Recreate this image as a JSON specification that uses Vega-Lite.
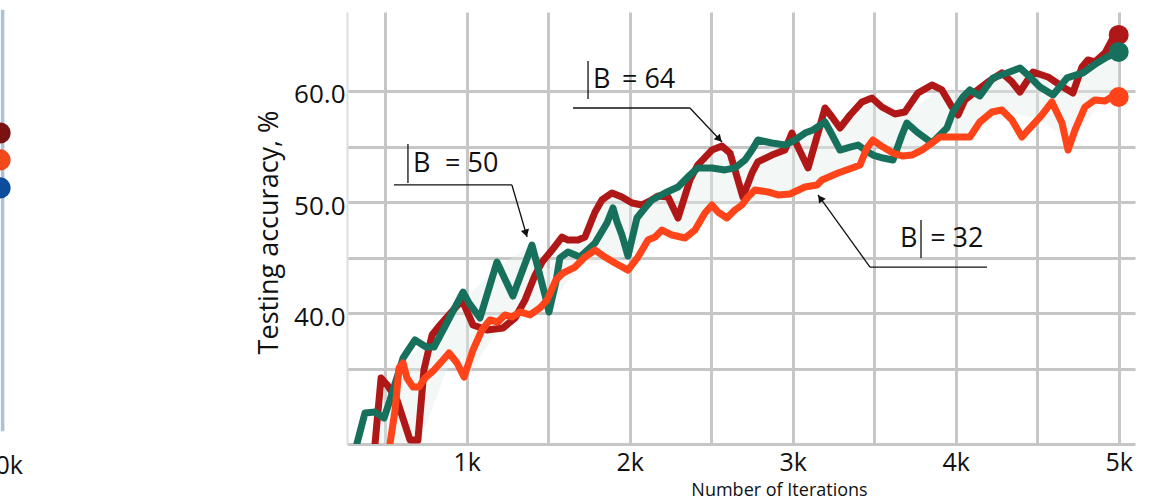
{
  "$schema": "https://vega.github.io/schema/vega-lite/v6.json",
  "width": 788,
  "height": 432,
  "autosize": {"type": "none"},
  "padding": {"left": 347, "top": 12, "right": 27, "bottom": 57},
  "background": "white",
  "config": {"view": {"stroke": null}, "font": "Open Sans"},
  "datasets": {
    "series": [
      {"s": "B = 64", "x": 437, "y": 28.3}, {"s": "B = 64", "x": 474, "y": 34.19}, {"s": "B = 64", "x": 517, "y": 33.47}, {"s": "B = 64", "x": 572, "y": 32.21},
      {"s": "B = 64", "x": 652, "y": 28.61}, {"s": "B = 64", "x": 700, "y": 28.61}, {"s": "B = 64", "x": 737, "y": 34.91}, {"s": "B = 64", "x": 787, "y": 38.06},
      {"s": "B = 64", "x": 836, "y": 38.96}, {"s": "B = 64", "x": 971, "y": 41.2}, {"s": "B = 64", "x": 1038, "y": 38.96}, {"s": "B = 64", "x": 1124, "y": 38.51},
      {"s": "B = 64", "x": 1222, "y": 38.69}, {"s": "B = 64", "x": 1296, "y": 39.59}, {"s": "B = 64", "x": 1357, "y": 41.2}, {"s": "B = 64", "x": 1419, "y": 43.45},
      {"s": "B = 64", "x": 1462, "y": 44.62}, {"s": "B = 64", "x": 1523, "y": 45.7}, {"s": "B = 64", "x": 1584, "y": 46.87}, {"s": "B = 64", "x": 1621, "y": 46.6},
      {"s": "B = 64", "x": 1682, "y": 46.6}, {"s": "B = 64", "x": 1725, "y": 46.87}, {"s": "B = 64", "x": 1787, "y": 49.12}, {"s": "B = 64", "x": 1829, "y": 50.2},
      {"s": "B = 64", "x": 1891, "y": 50.83}, {"s": "B = 64", "x": 1952, "y": 50.47}, {"s": "B = 64", "x": 2014, "y": 49.93}, {"s": "B = 64", "x": 2075, "y": 49.75},
      {"s": "B = 64", "x": 2124, "y": 50.11}, {"s": "B = 64", "x": 2173, "y": 50.56}, {"s": "B = 64", "x": 2235, "y": 50.47}, {"s": "B = 64", "x": 2296, "y": 48.58},
      {"s": "B = 64", "x": 2369, "y": 52.0}, {"s": "B = 64", "x": 2418, "y": 53.35}, {"s": "B = 64", "x": 2504, "y": 54.69}, {"s": "B = 64", "x": 2566, "y": 55.05},
      {"s": "B = 64", "x": 2615, "y": 54.42}, {"s": "B = 64", "x": 2651, "y": 52.63}, {"s": "B = 64", "x": 2694, "y": 50.47}, {"s": "B = 64", "x": 2750, "y": 52.63},
      {"s": "B = 64", "x": 2786, "y": 53.62}, {"s": "B = 64", "x": 2872, "y": 54.24}, {"s": "B = 64", "x": 2952, "y": 54.69}, {"s": "B = 64", "x": 2995, "y": 56.22},
      {"s": "B = 64", "x": 3032, "y": 54.96}, {"s": "B = 64", "x": 3094, "y": 53.08}, {"s": "B = 64", "x": 3155, "y": 56.22}, {"s": "B = 64", "x": 3198, "y": 58.47},
      {"s": "B = 64", "x": 3241, "y": 57.66}, {"s": "B = 64", "x": 3290, "y": 56.67}, {"s": "B = 64", "x": 3352, "y": 57.84}, {"s": "B = 64", "x": 3425, "y": 59.01},
      {"s": "B = 64", "x": 3486, "y": 59.37}, {"s": "B = 64", "x": 3547, "y": 58.56}, {"s": "B = 64", "x": 3627, "y": 57.93}, {"s": "B = 64", "x": 3688, "y": 58.11},
      {"s": "B = 64", "x": 3768, "y": 59.82}, {"s": "B = 64", "x": 3854, "y": 60.54}, {"s": "B = 64", "x": 3915, "y": 60.09}, {"s": "B = 64", "x": 3977, "y": 58.56},
      {"s": "B = 64", "x": 4014, "y": 57.84}, {"s": "B = 64", "x": 4056, "y": 59.19}, {"s": "B = 64", "x": 4118, "y": 59.91}, {"s": "B = 64", "x": 4198, "y": 60.81},
      {"s": "B = 64", "x": 4283, "y": 61.62}, {"s": "B = 64", "x": 4345, "y": 60.81}, {"s": "B = 64", "x": 4394, "y": 59.91}, {"s": "B = 64", "x": 4474, "y": 61.71},
      {"s": "B = 64", "x": 4566, "y": 61.26}, {"s": "B = 64", "x": 4658, "y": 60.36}, {"s": "B = 64", "x": 4719, "y": 59.82}, {"s": "B = 64", "x": 4775, "y": 62.16},
      {"s": "B = 64", "x": 4811, "y": 62.79}, {"s": "B = 64", "x": 4854, "y": 62.61}, {"s": "B = 64", "x": 4916, "y": 63.42}, {"s": "B = 64", "x": 4959, "y": 64.59},
      {"s": "B = 64", "x": 5000, "y": 65.04},

      {"s": "B = 50", "x": 326, "y": 28.3}, {"s": "B = 50", "x": 375, "y": 31.04}, {"s": "B = 50", "x": 437, "y": 31.13}, {"s": "B = 50", "x": 492, "y": 30.59},
      {"s": "B = 50", "x": 529, "y": 32.21}, {"s": "B = 50", "x": 609, "y": 35.99}, {"s": "B = 50", "x": 682, "y": 37.61}, {"s": "B = 50", "x": 750, "y": 36.98},
      {"s": "B = 50", "x": 799, "y": 36.98}, {"s": "B = 50", "x": 848, "y": 38.33}, {"s": "B = 50", "x": 977, "y": 41.92}, {"s": "B = 50", "x": 1014, "y": 40.93},
      {"s": "B = 50", "x": 1081, "y": 39.59}, {"s": "B = 50", "x": 1185, "y": 44.62}, {"s": "B = 50", "x": 1283, "y": 41.56}, {"s": "B = 50", "x": 1400, "y": 46.15},
      {"s": "B = 50", "x": 1437, "y": 44.08}, {"s": "B = 50", "x": 1480, "y": 41.65}, {"s": "B = 50", "x": 1504, "y": 40.13}, {"s": "B = 50", "x": 1547, "y": 42.82},
      {"s": "B = 50", "x": 1571, "y": 44.98}, {"s": "B = 50", "x": 1621, "y": 45.52}, {"s": "B = 50", "x": 1694, "y": 45.07}, {"s": "B = 50", "x": 1787, "y": 46.33},
      {"s": "B = 50", "x": 1860, "y": 48.13}, {"s": "B = 50", "x": 1897, "y": 49.48}, {"s": "B = 50", "x": 1922, "y": 48.22}, {"s": "B = 50", "x": 1952, "y": 47.05},
      {"s": "B = 50", "x": 1989, "y": 45.16}, {"s": "B = 50", "x": 2044, "y": 48.58}, {"s": "B = 50", "x": 2093, "y": 49.48}, {"s": "B = 50", "x": 2136, "y": 50.2},
      {"s": "B = 50", "x": 2216, "y": 50.83}, {"s": "B = 50", "x": 2296, "y": 51.37}, {"s": "B = 50", "x": 2357, "y": 52.27}, {"s": "B = 50", "x": 2418, "y": 53.08},
      {"s": "B = 50", "x": 2504, "y": 53.08}, {"s": "B = 50", "x": 2584, "y": 52.9}, {"s": "B = 50", "x": 2645, "y": 53.08}, {"s": "B = 50", "x": 2707, "y": 53.79},
      {"s": "B = 50", "x": 2750, "y": 54.69}, {"s": "B = 50", "x": 2786, "y": 55.59}, {"s": "B = 50", "x": 2872, "y": 55.32}, {"s": "B = 50", "x": 2952, "y": 55.14},
      {"s": "B = 50", "x": 3013, "y": 55.59}, {"s": "B = 50", "x": 3075, "y": 56.22}, {"s": "B = 50", "x": 3124, "y": 56.49}, {"s": "B = 50", "x": 3198, "y": 57.21},
      {"s": "B = 50", "x": 3235, "y": 56.22}, {"s": "B = 50", "x": 3290, "y": 54.69}, {"s": "B = 50", "x": 3352, "y": 54.96}, {"s": "B = 50", "x": 3401, "y": 55.14},
      {"s": "B = 50", "x": 3443, "y": 54.69}, {"s": "B = 50", "x": 3492, "y": 54.24}, {"s": "B = 50", "x": 3554, "y": 53.97}, {"s": "B = 50", "x": 3615, "y": 53.79},
      {"s": "B = 50", "x": 3670, "y": 56.04}, {"s": "B = 50", "x": 3700, "y": 57.12}, {"s": "B = 50", "x": 3762, "y": 56.31}, {"s": "B = 50", "x": 3854, "y": 55.32},
      {"s": "B = 50", "x": 3946, "y": 56.67}, {"s": "B = 50", "x": 3983, "y": 58.11}, {"s": "B = 50", "x": 4044, "y": 59.46}, {"s": "B = 50", "x": 4087, "y": 60.09},
      {"s": "B = 50", "x": 4148, "y": 59.55}, {"s": "B = 50", "x": 4228, "y": 61.17}, {"s": "B = 50", "x": 4314, "y": 61.62}, {"s": "B = 50", "x": 4394, "y": 62.07},
      {"s": "B = 50", "x": 4455, "y": 61.26}, {"s": "B = 50", "x": 4517, "y": 60.36}, {"s": "B = 50", "x": 4597, "y": 59.64}, {"s": "B = 50", "x": 4683, "y": 61.17},
      {"s": "B = 50", "x": 4781, "y": 61.62}, {"s": "B = 50", "x": 4867, "y": 62.52}, {"s": "B = 50", "x": 4928, "y": 63.06}, {"s": "B = 50", "x": 5000, "y": 63.51},

      {"s": "B = 32", "x": 529, "y": 28.3}, {"s": "B = 32", "x": 560, "y": 31.31}, {"s": "B = 32", "x": 584, "y": 35.09}, {"s": "B = 32", "x": 609, "y": 35.54},
      {"s": "B = 32", "x": 633, "y": 34.19}, {"s": "B = 32", "x": 670, "y": 33.38}, {"s": "B = 32", "x": 707, "y": 33.38}, {"s": "B = 32", "x": 743, "y": 34.19},
      {"s": "B = 32", "x": 799, "y": 34.91}, {"s": "B = 32", "x": 854, "y": 35.81}, {"s": "B = 32", "x": 891, "y": 36.44}, {"s": "B = 32", "x": 940, "y": 35.54},
      {"s": "B = 32", "x": 983, "y": 34.28}, {"s": "B = 32", "x": 1038, "y": 36.71}, {"s": "B = 32", "x": 1093, "y": 38.51}, {"s": "B = 32", "x": 1142, "y": 39.41},
      {"s": "B = 32", "x": 1191, "y": 39.23}, {"s": "B = 32", "x": 1234, "y": 39.86}, {"s": "B = 32", "x": 1277, "y": 39.68}, {"s": "B = 32", "x": 1326, "y": 40.13},
      {"s": "B = 32", "x": 1388, "y": 39.86}, {"s": "B = 32", "x": 1449, "y": 40.49}, {"s": "B = 32", "x": 1492, "y": 41.2}, {"s": "B = 32", "x": 1547, "y": 43.0},
      {"s": "B = 32", "x": 1590, "y": 43.63}, {"s": "B = 32", "x": 1664, "y": 44.17}, {"s": "B = 32", "x": 1725, "y": 45.07}, {"s": "B = 32", "x": 1787, "y": 45.7},
      {"s": "B = 32", "x": 1848, "y": 45.07}, {"s": "B = 32", "x": 1909, "y": 44.53}, {"s": "B = 32", "x": 1989, "y": 43.9}, {"s": "B = 32", "x": 2050, "y": 45.07},
      {"s": "B = 32", "x": 2112, "y": 46.6}, {"s": "B = 32", "x": 2155, "y": 46.87}, {"s": "B = 32", "x": 2198, "y": 47.5}, {"s": "B = 32", "x": 2259, "y": 47.05},
      {"s": "B = 32", "x": 2339, "y": 46.78}, {"s": "B = 32", "x": 2400, "y": 47.5}, {"s": "B = 32", "x": 2461, "y": 49.03}, {"s": "B = 32", "x": 2504, "y": 49.75},
      {"s": "B = 32", "x": 2541, "y": 49.12}, {"s": "B = 32", "x": 2596, "y": 48.58}, {"s": "B = 32", "x": 2645, "y": 49.3}, {"s": "B = 32", "x": 2688, "y": 49.75},
      {"s": "B = 32", "x": 2725, "y": 50.47}, {"s": "B = 32", "x": 2768, "y": 51.1}, {"s": "B = 32", "x": 2848, "y": 50.92}, {"s": "B = 32", "x": 2909, "y": 50.65},
      {"s": "B = 32", "x": 2983, "y": 50.74}, {"s": "B = 32", "x": 3075, "y": 51.37}, {"s": "B = 32", "x": 3149, "y": 51.55}, {"s": "B = 32", "x": 3179, "y": 52.0},
      {"s": "B = 32", "x": 3278, "y": 52.63}, {"s": "B = 32", "x": 3364, "y": 53.08}, {"s": "B = 32", "x": 3413, "y": 53.35}, {"s": "B = 32", "x": 3455, "y": 54.87},
      {"s": "B = 32", "x": 3492, "y": 55.59}, {"s": "B = 32", "x": 3554, "y": 54.96}, {"s": "B = 32", "x": 3615, "y": 54.42}, {"s": "B = 32", "x": 3676, "y": 54.15},
      {"s": "B = 32", "x": 3731, "y": 54.24}, {"s": "B = 32", "x": 3792, "y": 54.69}, {"s": "B = 32", "x": 3854, "y": 55.32}, {"s": "B = 32", "x": 3903, "y": 55.86},
      {"s": "B = 32", "x": 4008, "y": 55.86}, {"s": "B = 32", "x": 4087, "y": 55.86}, {"s": "B = 32", "x": 4148, "y": 57.21}, {"s": "B = 32", "x": 4222, "y": 58.11},
      {"s": "B = 32", "x": 4283, "y": 58.29}, {"s": "B = 32", "x": 4345, "y": 57.39}, {"s": "B = 32", "x": 4406, "y": 55.86}, {"s": "B = 32", "x": 4455, "y": 56.67},
      {"s": "B = 32", "x": 4529, "y": 57.84}, {"s": "B = 32", "x": 4590, "y": 59.01}, {"s": "B = 32", "x": 4652, "y": 57.12}, {"s": "B = 32", "x": 4689, "y": 54.69},
      {"s": "B = 32", "x": 4732, "y": 56.49}, {"s": "B = 32", "x": 4793, "y": 58.56}, {"s": "B = 32", "x": 4854, "y": 59.19}, {"s": "B = 32", "x": 4916, "y": 59.1},
      {"s": "B = 32", "x": 4977, "y": 59.64}, {"s": "B = 32", "x": 5000, "y": 59.46}
    ],
    "band": [
      {"x": 430, "y": 28.3, "y2": 31.5}, {"x": 600, "y": 28.3, "y2": 35.5}, {"x": 750, "y": 30.0, "y2": 37.5}, {"x": 900, "y": 35.8, "y2": 39.8},
      {"x": 1000, "y": 34.3, "y2": 41.5}, {"x": 1200, "y": 38.7, "y2": 44.3}, {"x": 1400, "y": 39.9, "y2": 46.1}, {"x": 1500, "y": 40.5, "y2": 44.0},
      {"x": 1700, "y": 44.5, "y2": 46.6}, {"x": 1900, "y": 44.5, "y2": 50.8}, {"x": 2100, "y": 46.5, "y2": 50.0}, {"x": 2300, "y": 46.8, "y2": 51.4},
      {"x": 2500, "y": 49.7, "y2": 54.7}, {"x": 2700, "y": 49.8, "y2": 53.5}, {"x": 2900, "y": 50.6, "y2": 55.3}, {"x": 3100, "y": 51.4, "y2": 56.5},
      {"x": 3300, "y": 52.7, "y2": 57.0}, {"x": 3500, "y": 55.0, "y2": 59.3}, {"x": 3700, "y": 54.1, "y2": 58.0}, {"x": 3900, "y": 55.8, "y2": 60.1},
      {"x": 4100, "y": 55.9, "y2": 59.8}, {"x": 4300, "y": 58.2, "y2": 61.8}, {"x": 4500, "y": 57.5, "y2": 61.5}, {"x": 4700, "y": 55.5, "y2": 61.5},
      {"x": 4900, "y": 59.1, "y2": 63.3}, {"x": 5000, "y": 59.5, "y2": 65.0}
    ],
    "segments": [
      {"x": 1744, "y": 62.7, "x2": 1744, "y2": 59.28},
      {"x": 1652, "y": 58.47, "x2": 2369, "y2": 58.47},
      {"x": 2369, "y": 58.47, "x2": 2566, "y2": 55.41},
      {"x": 639, "y": 55.23, "x2": 639, "y2": 51.73},
      {"x": 553, "y": 51.55, "x2": 1277, "y2": 51.55},
      {"x": 1277, "y": 51.55, "x2": 1370, "y2": 46.87},
      {"x": 3787, "y": 48.4, "x2": 3787, "y2": 44.98},
      {"x": 3474, "y": 44.17, "x2": 4192, "y2": 44.17},
      {"x": 3474, "y": 44.17, "x2": 3155, "y2": 50.65}
    ],
    "labels": [
      {"x": 1774, "y": 60.27, "t": "B"}, {"x": 1952, "y": 60.27, "t": "= 64"},
      {"x": 670, "y": 52.72, "t": "B"}, {"x": 867, "y": 52.72, "t": "= 50"},
      {"x": 3658, "y": 45.97, "t": "B"}, {"x": 3843, "y": 45.97, "t": "= 32"}
    ],
    "arrows": [
      {"a": "B = 64", "x": 2549, "y": 55.67},
      {"a": "B = 50", "x": 1363, "y": 47.21},
      {"a": "B = 32", "x": 3169, "y": 50.36}
    ],
    "fragment": [
      {"x": -1848, "y": 67.3, "y2": 29.4}
    ],
    "fragmentDots": [
      {"s": "F1", "x": -1864, "y": 56.22},
      {"s": "F2", "x": -1864, "y": 53.8},
      {"s": "F3", "x": -1864, "y": 51.28}
    ],
    "fragmentText": [
      {"x": -1723, "y": 25.6, "t": "10k"}
    ]
  },
  "layer": [
    {
      "data": {"name": "band"},
      "mark": {"type": "area", "color": "#e2eae8", "opacity": 0.4, "clip": true},
      "encoding": {
        "x": {
          "field": "x", "type": "quantitative",
          "scale": {"domain": [265, 5100], "nice": false, "zero": false},
          "axis": {
            "values": [500, 1000, 1500, 2000, 2500, 3000, 3500, 4000, 4500, 5000],
            "labelExpr": "datum.value % 1000 == 0 ? (datum.value / 1000) + 'k' : ''",
            "grid": true, "gridColor": "#c6c6c6", "gridWidth": 3,
            "ticks": false, "domain": true, "domainColor": "#c6c6c6", "domainWidth": 3,
            "labelFontSize": 25, "labelColor": "#111111", "labelPadding": 6, "labelOverlap": false, "labelFlush": false,
            "title": "Number of Iterations", "titleFontSize": 18, "titleFontWeight": "normal", "titleColor": "#111111",
            "titleX": 432, "titleY": 51, "titleBaseline": "alphabetic", "titleAlign": "center"
          }
        },
        "y": {
          "field": "y", "type": "quantitative",
          "scale": {"domain": [28.26, 67.1], "nice": false, "zero": false},
          "axis": {
            "values": [35, 40, 45, 50, 55, 60],
            "labelExpr": "datum.value % 10 == 0 ? format(datum.value, '.1f') : ''",
            "grid": true, "gridColor": "#c6c6c6", "gridWidth": 3,
            "ticks": false, "domain": true, "domainColor": "#dddddd", "domainWidth": 2,
            "labelFontSize": 26, "labelColor": "#111111", "labelPadding": 2, "labelOffset": 4, "labelOverlap": false, "labelFlush": false,
            "title": "Testing accuracy, %", "titleFontSize": 27, "titleFontWeight": "normal", "titleColor": "#111111",
            "titleX": -78, "titleY": 220, "titleAngle": 270, "titleBaseline": "middle", "titleAlign": "center"
          }
        },
        "y2": {"field": "y2"}
      }
    },
    {
      "data": {"name": "series"},
      "transform": [{"filter": "datum.s == 'B = 64'"}],
      "mark": {"type": "line", "strokeWidth": 7, "strokeJoin": "round", "strokeCap": "round", "clip": true},
      "encoding": {
        "x": {"field": "x", "type": "quantitative"},
        "y": {"field": "y", "type": "quantitative"},
        "color": {"field": "s", "type": "nominal", "legend": null,
          "scale": {"domain": ["B = 64", "B = 50", "B = 32", "F1", "F2", "F3"], "range": ["#b01818", "#17705c", "#ff4419", "#7a1212", "#f04a1c", "#0b4c9c"]}}
      }
    },
    {
      "data": {"name": "series"},
      "transform": [{"filter": "datum.s == 'B = 50'"}],
      "mark": {"type": "line", "strokeWidth": 7, "strokeJoin": "round", "strokeCap": "round", "clip": true},
      "encoding": {
        "x": {"field": "x", "type": "quantitative"},
        "y": {"field": "y", "type": "quantitative"},
        "color": {"field": "s", "type": "nominal", "legend": null}
      }
    },
    {
      "data": {"name": "series"},
      "transform": [{"filter": "datum.s == 'B = 32'"}],
      "mark": {"type": "line", "strokeWidth": 7, "strokeJoin": "round", "strokeCap": "round", "clip": true},
      "encoding": {
        "x": {"field": "x", "type": "quantitative"},
        "y": {"field": "y", "type": "quantitative"},
        "color": {"field": "s", "type": "nominal", "legend": null}
      }
    },
    {
      "data": {"name": "series"},
      "transform": [{"filter": "datum.x == 5000"}],
      "mark": {"type": "circle", "size": 400, "opacity": 1},
      "encoding": {
        "x": {"field": "x", "type": "quantitative"},
        "y": {"field": "y", "type": "quantitative"},
        "color": {"field": "s", "type": "nominal", "legend": null}
      }
    },
    {
      "data": {"name": "segments"},
      "mark": {"type": "rule", "color": "#111111", "strokeWidth": 1.3},
      "encoding": {
        "x": {"field": "x", "type": "quantitative"},
        "y": {"field": "y", "type": "quantitative"},
        "x2": {"field": "x2"},
        "y2": {"field": "y2"}
      }
    },
    {
      "data": {"name": "arrows"},
      "transform": [{"filter": "datum.a == 'B = 64'"}],
      "mark": {"type": "point", "shape": "triangle-up", "filled": true, "size": 70, "angle": 137, "color": "#111111", "opacity": 1},
      "encoding": {
        "x": {"field": "x", "type": "quantitative"},
        "y": {"field": "y", "type": "quantitative"}
      }
    },
    {
      "data": {"name": "arrows"},
      "transform": [{"filter": "datum.a == 'B = 50'"}],
      "mark": {"type": "point", "shape": "triangle-up", "filled": true, "size": 70, "angle": 164, "color": "#111111", "opacity": 1},
      "encoding": {
        "x": {"field": "x", "type": "quantitative"},
        "y": {"field": "y", "type": "quantitative"}
      }
    },
    {
      "data": {"name": "arrows"},
      "transform": [{"filter": "datum.a == 'B = 32'"}],
      "mark": {"type": "point", "shape": "triangle-up", "filled": true, "size": 70, "angle": 324, "color": "#111111", "opacity": 1},
      "encoding": {
        "x": {"field": "x", "type": "quantitative"},
        "y": {"field": "y", "type": "quantitative"}
      }
    },
    {
      "data": {"name": "labels"},
      "mark": {"type": "text", "align": "left", "baseline": "alphabetic", "fontSize": 27, "color": "#111111"},
      "encoding": {
        "x": {"field": "x", "type": "quantitative"},
        "y": {"field": "y", "type": "quantitative"},
        "text": {"field": "t"}
      }
    },
    {
      "data": {"name": "fragment"},
      "mark": {"type": "rule", "color": "#a9c3db", "strokeWidth": 3.5},
      "encoding": {
        "x": {"field": "x", "type": "quantitative"},
        "y": {"field": "y", "type": "quantitative"},
        "y2": {"field": "y2"}
      }
    },
    {
      "data": {"name": "fragmentDots"},
      "mark": {"type": "circle", "size": 450, "opacity": 1},
      "encoding": {
        "x": {"field": "x", "type": "quantitative"},
        "y": {"field": "y", "type": "quantitative"},
        "color": {"field": "s", "type": "nominal", "legend": null}
      }
    },
    {
      "data": {"name": "fragmentText"},
      "mark": {"type": "text", "align": "right", "baseline": "alphabetic", "fontSize": 25, "color": "#111111"},
      "encoding": {
        "x": {"field": "x", "type": "quantitative"},
        "y": {"field": "y", "type": "quantitative"},
        "text": {"field": "t"}
      }
    }
  ]
}
